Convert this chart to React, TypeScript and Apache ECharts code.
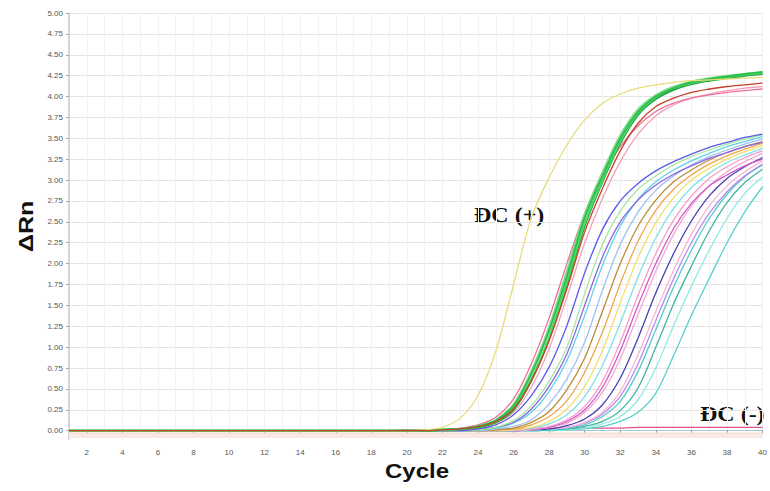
import React, { useEffect, useRef } from "react";
import * as echarts from "echarts";

// Cycle numbers 1..40
const CYCLES = [1, 2, 3, 4, 5, 6, 7, 8, 9, 10, 11, 12, 13, 14, 15, 16, 17, 18, 19, 20, 21, 22, 23, 24, 25, 26, 27, 28, 29, 30, 31, 32, 33, 34, 35, 36, 37, 38, 39, 40];
// Baseline (cycles 1..19): all curves flat at zero
const BASELINE = [0, 0, 0, 0, 0, 0, 0, 0, 0, 0, 0, 0, 0, 0, 0, 0, 0, 0, 0];
const X_TICKS = [2, 4, 6, 8, 10, 12, 14, 16, 18, 20, 22, 24, 26, 28, 30, 32, 34, 36, 38, 40];
const Y_TICKS = [0, 0.25, 0.5, 0.75, 1, 1.25, 1.5, 1.75, 2, 2.25, 2.5, 2.75, 3, 3.25, 3.5, 3.75, 4, 4.25, 4.5, 4.75, 5];

// Amplification curves, values for cycles 20..40
// Lower group (samples)
const S01 = [0, 0, 0, 0, 0.02, 0.07, 0.19, 0.42, 0.76, 1.26, 1.89, 2.41, 2.75, 2.96, 3.11, 3.22, 3.31, 3.39, 3.45, 3.51, 3.55];
const S02 = [0, 0, 0, 0, 0.01, 0.04, 0.12, 0.3, 0.59, 1.0, 1.64, 2.23, 2.63, 2.89, 3.05, 3.18, 3.28, 3.36, 3.43, 3.49, 3.54];
const S19 = [0, 0, 0, 0, 0.01, 0.04, 0.1, 0.26, 0.53, 0.92, 1.5, 2.08, 2.5, 2.76, 2.94, 3.07, 3.17, 3.26, 3.33, 3.4, 3.45];
const S03 = [0, 0, 0, 0, 0.01, 0.03, 0.09, 0.22, 0.47, 0.84, 1.38, 1.98, 2.45, 2.77, 2.98, 3.12, 3.23, 3.32, 3.4, 3.46, 3.52];
const S04 = [0, 0, 0, 0, 0, 0.02, 0.05, 0.13, 0.32, 0.62, 1.06, 1.68, 2.23, 2.62, 2.88, 3.05, 3.18, 3.28, 3.36, 3.43, 3.49];
const S05 = [0, 0, 0, 0, 0, 0.01, 0.03, 0.1, 0.23, 0.49, 0.87, 1.43, 2.0, 2.45, 2.76, 2.98, 3.12, 3.24, 3.33, 3.4, 3.46];
const S06 = [0, 0, 0, 0, 0, 0.01, 0.02, 0.07, 0.17, 0.36, 0.7, 1.18, 1.76, 2.27, 2.64, 2.89, 3.06, 3.19, 3.29, 3.37, 3.44];
const S07 = [0, 0, 0, 0, 0, 0, 0.01, 0.04, 0.11, 0.26, 0.53, 0.96, 1.53, 2.07, 2.49, 2.79, 3.0, 3.14, 3.25, 3.34, 3.41];
const S08 = [0, 0, 0, 0, 0, 0, 0.01, 0.03, 0.08, 0.19, 0.41, 0.78, 1.29, 1.84, 2.31, 2.66, 2.91, 3.08, 3.21, 3.3, 3.38];
const S09 = [0, 0, 0, 0, 0, 0, 0.01, 0.02, 0.05, 0.13, 0.29, 0.59, 1.06, 1.62, 2.12, 2.52, 2.81, 3.02, 3.16, 3.27, 3.35];
const S17 = [0, 0, 0, 0, 0, 0, 0.01, 0.02, 0.04, 0.11, 0.25, 0.52, 0.96, 1.5, 2.0, 2.42, 2.72, 2.93, 3.06, 3.17, 3.25];
const S10 = [0, 0, 0, 0, 0, 0, 0, 0.01, 0.04, 0.09, 0.22, 0.46, 0.86, 1.39, 1.91, 2.35, 2.69, 2.93, 3.1, 3.22, 3.32];
const S11 = [0, 0, 0, 0, 0, 0, 0, 0.01, 0.02, 0.06, 0.14, 0.31, 0.63, 1.11, 1.65, 2.12, 2.51, 2.81, 3.02, 3.16, 3.27];
const S12 = [0, 0, 0, 0, 0, 0, 0, 0.01, 0.02, 0.04, 0.1, 0.22, 0.47, 0.91, 1.43, 1.92, 2.35, 2.69, 2.93, 3.1, 3.23];
const S18 = [0, 0, 0, 0, 0, 0, 0, 0.01, 0.02, 0.04, 0.09, 0.2, 0.41, 0.8, 1.32, 1.82, 2.25, 2.6, 2.86, 3.05, 3.19];
const S13 = [0, 0, 0, 0, 0, 0, 0, 0, 0.01, 0.03, 0.07, 0.17, 0.35, 0.71, 1.21, 1.72, 2.16, 2.54, 2.83, 3.04, 3.18];
const S14 = [0, 0, 0, 0, 0, 0, 0, 0, 0.01, 0.02, 0.05, 0.11, 0.24, 0.51, 1.0, 1.52, 1.97, 2.39, 2.73, 2.97, 3.13];
const S15 = [0, 0, 0, 0, 0, 0, 0, 0, 0.01, 0.01, 0.03, 0.08, 0.17, 0.37, 0.75, 1.26, 1.73, 2.16, 2.54, 2.84, 3.04];
const S16 = [0, 0, 0, 0, 0, 0, 0, 0, 0, 0.01, 0.02, 0.05, 0.11, 0.22, 0.45, 0.9, 1.38, 1.82, 2.25, 2.62, 2.92];
// Upper group
const G1 = [0, 0, 0.01, 0.02, 0.05, 0.12, 0.3, 0.68, 1.2, 1.85, 2.55, 3.05, 3.5, 3.82, 4.0, 4.1, 4.17, 4.21, 4.24, 4.27, 4.29];
const G2 = [0, 0, 0.01, 0.02, 0.05, 0.11, 0.27, 0.62, 1.12, 1.78, 2.48, 3.0, 3.46, 3.8, 3.99, 4.1, 4.16, 4.2, 4.23, 4.26, 4.28];
const G3 = [0, 0, 0.01, 0.02, 0.06, 0.13, 0.32, 0.72, 1.25, 1.92, 2.6, 3.1, 3.54, 3.85, 4.02, 4.12, 4.18, 4.22, 4.25, 4.27, 4.3];
const G4 = [0, 0, 0.01, 0.02, 0.04, 0.1, 0.25, 0.6, 1.1, 1.75, 2.45, 2.98, 3.44, 3.78, 3.97, 4.08, 4.15, 4.19, 4.22, 4.25, 4.27];
const P1 = [0, 0, 0.01, 0.03, 0.07, 0.16, 0.38, 0.8, 1.35, 2.0, 2.6, 3.05, 3.4, 3.65, 3.82, 3.92, 3.98, 4.02, 4.05, 4.07, 4.09];
const P2 = [0, 0, 0.01, 0.02, 0.04, 0.09, 0.22, 0.52, 0.98, 1.6, 2.25, 2.78, 3.22, 3.55, 3.77, 3.9, 3.98, 4.03, 4.07, 4.1, 4.12];
const R1 = [0, 0, 0.01, 0.02, 0.05, 0.11, 0.26, 0.6, 1.08, 1.7, 2.38, 2.9, 3.35, 3.68, 3.88, 3.98, 4.05, 4.09, 4.12, 4.14, 4.16];
// Positive control (ĐC +)
const PC = [0, 0.01, 0.04, 0.15, 0.42, 0.95, 1.75, 2.55, 3.03, 3.42, 3.72, 3.92, 4.03, 4.1, 4.14, 4.17, 4.19, 4.2, 4.21, 4.22, 4.23];
// Negative control (ĐC -)
const NC = [0.01, 0.01, 0.01, 0.01, 0.02, 0.02, 0.02, 0.02, 0.03, 0.03, 0.03, 0.03, 0.03, 0.04, 0.04, 0.04, 0.04, 0.04, 0.04, 0.04, 0.04];
// Slightly negative baselines below zero (flat)
const BELOW_A = [-0.03, -0.03];
const BELOW_B = [-0.065, -0.065];

const CURVES: { tail: number[]; color: string; width?: number }[] = [
  { tail: NC, color: "#e0508a" },
  { tail: S16, color: "#5cd0cc" },
  { tail: S15, color: "#8eeae0" },
  { tail: S14, color: "#3fb59e" },
  { tail: S13, color: "#4ecfc4" },
  { tail: S18, color: "#b98cf2" },
  { tail: S12, color: "#f7b6d6" },
  { tail: S11, color: "#4a3fb0" },
  { tail: S10, color: "#f3a8d2" },
  { tail: S17, color: "#d25ac6" },
  { tail: S09, color: "#f79ccc" },
  { tail: S08, color: "#7fe0e6" },
  { tail: S07, color: "#f0e06a" },
  { tail: S06, color: "#f2a54a" },
  { tail: S05, color: "#b98c3a" },
  { tail: S04, color: "#9fc1f5" },
  { tail: S03, color: "#5fd3e6" },
  { tail: S19, color: "#8a64e2" },
  { tail: S02, color: "#a7e7a0" },
  { tail: S01, color: "#5b5be8" },
  { tail: P2, color: "#f4a0b8" },
  { tail: P1, color: "#ec6f9a" },
  { tail: G4, color: "#1e9e3e", width: 2 },
  { tail: G2, color: "#4cd964", width: 2 },
  { tail: G3, color: "#7ddc8a", width: 1.6 },
  { tail: G1, color: "#2fbf4f", width: 2 },
  { tail: PC, color: "#e6dc78" },
  { tail: R1, color: "#c8402a" },
];

export default function App() {
  const ref = useRef<HTMLDivElement>(null);
  useEffect(() => {
    if (!ref.current) return;
    const chart = echarts.init(ref.current, null, { renderer: "svg" });
    const series: any[] = [];
    series.push({
      type: "line",
      data: [[1, BELOW_B[0]], [40, BELOW_B[1]]],
      symbol: "none",
      lineStyle: { color: "#fbe9e9", width: 4 },
      silent: true,
    });
    series.push({
      type: "line",
      data: [[1, BELOW_A[0]], [40, BELOW_A[1]]],
      symbol: "none",
      lineStyle: { color: "#fae0d0", width: 1.5 },
      silent: true,
    });
    CURVES.forEach((c) => {
      const vals = BASELINE.concat(c.tail);
      series.push({
        type: "line",
        data: CYCLES.map((x, i) => [x, vals[i]]),
        symbol: "none",
        smooth: 0.3,
        lineStyle: { color: c.color, width: c.width ?? 1.3 },
        silent: true,
      });
    });

    const textStyle = { fontSize: 20, fontWeight: "bold", fontFamily: "'Liberation Serif', serif", fill: "#111" };
    chart.setOption({
      animation: false,
      backgroundColor: "#ffffff",
      grid: { left: 69, right: 4, top: 13, bottom: 52, containLabel: false },
      xAxis: [
        {
          type: "value",
          min: 1,
          max: 40,
          interval: 1,
          axisLine: { show: true, lineStyle: { color: "#a9c4d9", width: 1 } },
          axisTick: { show: true, customValues: X_TICKS, length: 3, lineStyle: { color: "#999" } },
          axisLabel: { customValues: X_TICKS, fontSize: 8, color: "#555", margin: 9, fontFamily: "Liberation Sans" },
          splitLine: { show: true, lineStyle: { color: "#e4e4e4", width: 1 } },
        },
        {
          type: "value",
          min: 1,
          max: 40,
          interval: 1,
          position: "bottom",
          axisLine: { show: false },
          axisTick: { show: false },
          axisLabel: { show: false },
          splitLine: { show: true, lineStyle: { color: "#f1f1f1", width: 1 } },
        },
      ],
      yAxis: {
        type: "value",
        min: -0.1,
        max: 5,
        axisLine: { show: true, lineStyle: { color: "#c8c8c8", width: 1.5 } },
        axisTick: { show: true, customValues: Y_TICKS, length: 3, lineStyle: { color: "#aaa" } },
        axisLabel: {
          customValues: Y_TICKS,
          fontSize: 8,
          color: "#555",
          margin: 6,
          fontFamily: "Liberation Sans",
          formatter: (v: number) => v.toFixed(2),
        },
        splitLine: { show: true, lineStyle: { color: "#e4e4e4", width: 1 } },
      },
      series,
      graphic: [
        { type: "text", left: 474, top: 205, scaleX: 1.2, style: { text: "ĐC (+)", ...textStyle } },
        { type: "text", left: 700, top: 404, scaleX: 1.2, style: { text: "ĐC (-)", ...textStyle } },
        {
          type: "text",
          left: 385,
          top: 461,
          scaleX: 1.2,
          style: { text: "Cycle", fontSize: 20, fontWeight: "bold", fontFamily: "Liberation Sans", fill: "#111" },
        },
        {
          type: "text",
          x: 16,
          y: 252,
          rotation: Math.PI / 2,
          scaleX: 1.25,
          style: { text: "ΔRn", fontSize: 20, fontWeight: "bold", fontFamily: "Liberation Sans", fill: "#111" },
        },
      ],
    });
    return () => chart.dispose();
  }, []);
  return <div ref={ref} style={{ position: "absolute", left: 0, top: 0, width: 770, height: 491 }} />;
}
